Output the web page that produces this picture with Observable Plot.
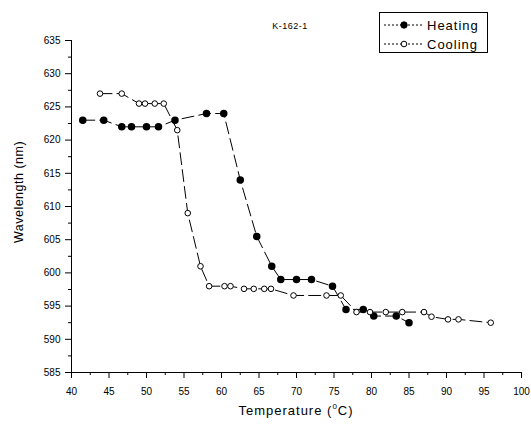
<!DOCTYPE html>
<html><head><meta charset="utf-8">
<script src="https://cdn.jsdelivr.net/npm/d3@7"></script>
<script src="https://cdn.jsdelivr.net/npm/@observablehq/plot@0.6"></script>
<style>
body{margin:0;background:#fff;font-family:"Liberation Sans",Arial,sans-serif;}
#wrap{position:relative;width:531px;height:428px;overflow:hidden;}
#wrap svg.plotsvg{position:absolute;left:0;top:0;}
.title{position:absolute;left:290px;top:21px;transform:translateX(-50%);font-size:9px;letter-spacing:0.5px;}
.xlabel{position:absolute;left:296px;top:403px;transform:translateX(-50%);font-size:13px;letter-spacing:1px;white-space:nowrap;}
.xlabel sup{font-size:8px;vertical-align:6px;line-height:0;}
.ylabel{position:absolute;left:19px;top:192px;transform:translate(-50%,-50%) rotate(-90deg);font-size:12.5px;letter-spacing:0.5px;white-space:nowrap;}
.legend{position:absolute;left:379px;top:12px;}
</style></head><body><div id="wrap"></div>
<script>
// Data
const heatingT = [41.5, 44.3, 46.7, 48.0, 50.0, 51.6, 53.8, 58.0, 60.3, 62.5, 64.7, 66.7, 67.9, 70.0, 72.0, 74.8, 76.6, 78.9, 80.3, 83.3, 85.0];
const heatingW = [623, 623, 622, 622, 622, 622, 623, 624, 624, 614, 605.5, 601, 599, 599, 599, 598, 594.5, 594.5, 593.5, 593.5, 592.5];
const coolingT = [43.8, 46.7, 49.0, 49.8, 51.1, 52.3, 54.1, 55.5, 57.2, 58.35, 60.4, 61.2, 63.0, 64.3, 65.7, 66.6, 69.6, 74.0, 75.9, 78.0, 79.8, 81.9, 84.1, 87.0, 88.0, 90.2, 91.6, 95.9];
const coolingW = [627, 627, 625.5, 625.5, 625.5, 625.5, 621.5, 609, 601, 598, 598, 598, 597.6, 597.6, 597.6, 597.6, 596.6, 596.6, 596.6, 594.1, 594.1, 594.1, 594.1, 594.1, 593.4, 593.0, 593.0, 592.5];

const xDomain = [40, 100];
const yDomain = [585, 635];
const xMajorTicks = [40, 45, 50, 55, 60, 65, 70, 75, 80, 85, 90, 95, 100];
const xMinorTicks = [42.5, 47.5, 52.5, 57.5, 62.5, 67.5, 72.5, 77.5, 82.5, 87.5, 92.5, 97.5];
const yMajorTicks = [585, 590, 595, 600, 605, 610, 615, 620, 625, 630, 635];
const yMinorTicks = [587.5, 592.5, 597.5, 602.5, 607.5, 612.5, 617.5, 622.5, 627.5, 632.5];
const seriesNames = ["Heating", "Cooling"];
const titleText = "K-162-1";

const heating = heatingT.map((t, i) => ({t, w: heatingW[i]}));
const cooling = coolingT.map((t, i) => ({t, w: coolingW[i]}));

const plot = Plot.plot({
  width: 531, height: 428,
  marginLeft: 71, marginRight: 10, marginTop: 40, marginBottom: 56,
  x: {domain: xDomain},
  y: {domain: yDomain},
  style: {fontFamily: '"Liberation Sans", Arial, sans-serif', fontSize: "10px", background: "transparent", color: "#000"},
  marks: [
    Plot.axisX({ticks: xMajorTicks, tickSize: 6, tickPadding: 9, label: null, fontSize: 10}),
    Plot.axisX({ticks: xMinorTicks, tickSize: 3, tickFormat: () => "", label: null}),
    Plot.axisY({ticks: yMajorTicks, tickSize: 6, tickPadding: 5, label: null, fontSize: 10}),
    Plot.axisY({ticks: yMinorTicks, tickSize: 3, tickFormat: () => "", label: null}),
    Plot.ruleX([xDomain[0]], {stroke: "black"}),
    Plot.ruleY([yDomain[0]], {stroke: "black"}),
    Plot.line(heating, {x: "t", y: "w", stroke: "black", strokeWidth: 1, strokeDasharray: "12,5"}),
    Plot.line(cooling, {x: "t", y: "w", stroke: "black", strokeWidth: 1, strokeDasharray: "12,5"}),
    Plot.dot(heating, {x: "t", y: "w", r: 3, fill: "black", stroke: "black"}),
    Plot.dot(cooling, {x: "t", y: "w", r: 2.8, fill: "white", stroke: "black", strokeWidth: 1})
  ]
});
plot.classList.add("plotsvg");
const wrap = document.getElementById("wrap");
wrap.appendChild(plot);

const t = document.createElement("div"); t.className = "title"; t.textContent = titleText; wrap.appendChild(t);
const xl = document.createElement("div"); xl.className = "xlabel"; xl.innerHTML = "Temperature (<sup>0</sup>C)"; wrap.appendChild(xl);
const yl = document.createElement("div"); yl.className = "ylabel"; yl.textContent = "Wavelength (nm)"; wrap.appendChild(yl);

// Legend
const lg = d3.select(wrap).append("svg").attr("class", "legend").attr("width", 110).attr("height", 42);
lg.append("rect").attr("x", 0.5).attr("y", 0.5).attr("width", 108).attr("height", 40).attr("fill", "white").attr("stroke", "black");
seriesNames.forEach((name, i) => {
  const y = 13 + i * 19;
  lg.append("line").attr("x1", 5).attr("x2", 43).attr("y1", y).attr("y2", y).attr("stroke", "black").attr("stroke-dasharray", "2,2");
  lg.append("circle").attr("cx", 25).attr("cy", y).attr("r", i === 0 ? 3.2 : 2.8)
    .attr("fill", i === 0 ? "black" : "white").attr("stroke", "black");
  lg.append("text").attr("x", 48).attr("y", y + 5).attr("font-size", 13).attr("letter-spacing", 1)
    .attr("font-family", '"Liberation Sans", Arial, sans-serif').text(name);
});
</script>
</body></html>
